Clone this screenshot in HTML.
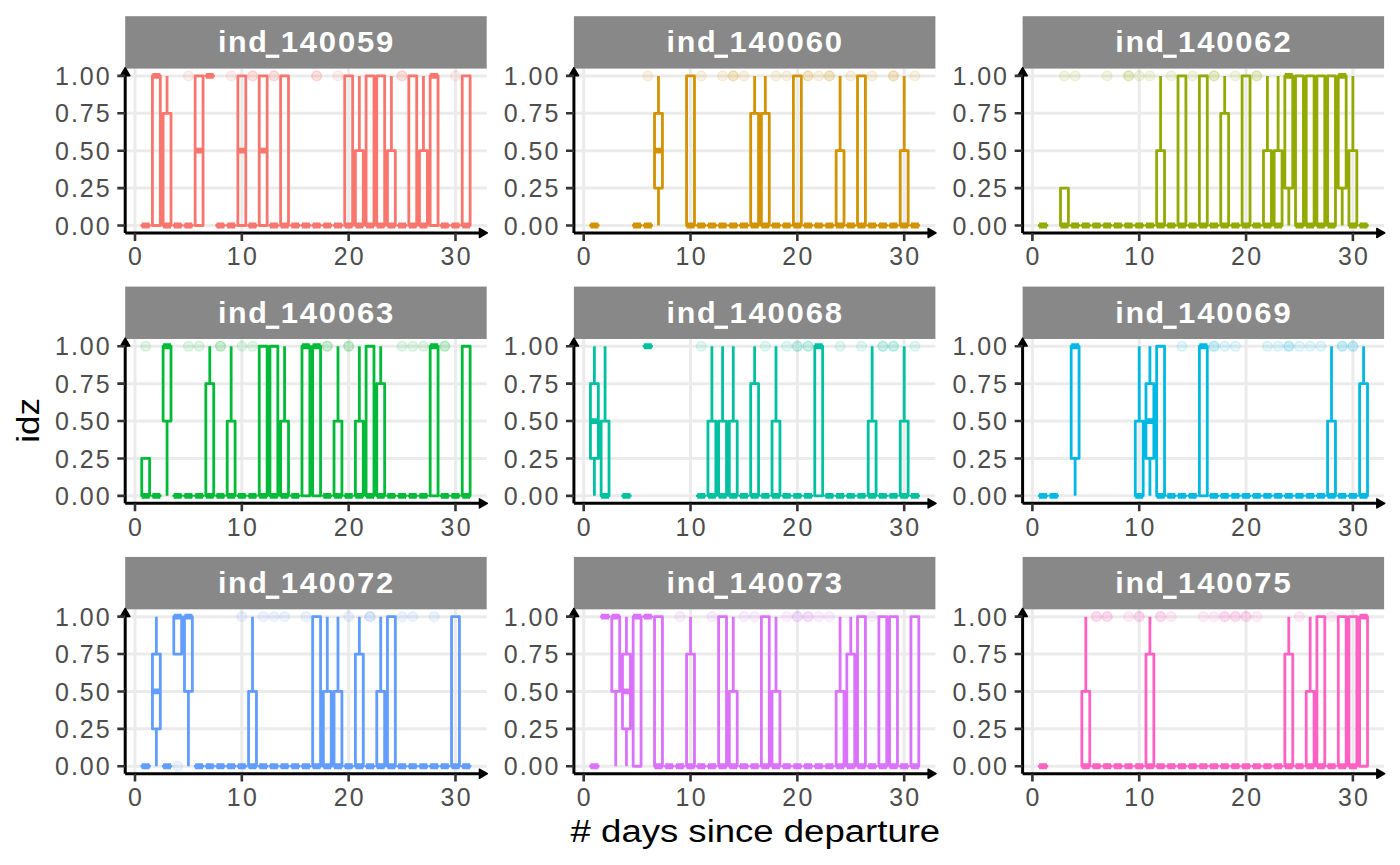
<!DOCTYPE html><html><head><meta charset="utf-8"><style>html,body{margin:0;padding:0;background:#fff;width:1400px;height:865px;overflow:hidden}svg{display:block}</style></head><body><svg width="1400" height="865" viewBox="0 0 1400 865">
<rect width="1400" height="865" fill="#FFFFFF"/>
<path d="M125.2 225.5H486.7M125.2 188.1H486.7M125.2 150.7H486.7M125.2 113.3H486.7M125.2 75.9H486.7M135 68.6V232.98M241.83 68.6V232.98M348.66 68.6V232.98M455.49 68.6V232.98" stroke="#EBEBEB" stroke-width="3.0" fill="none"/>
<rect x="125.2" y="16.2" width="361.5" height="52.4" fill="#888888"/>
<text transform="translate(217.9 52) scale(1.05 1)" font-family="Liberation Sans" font-weight="bold" font-size="29" fill="#FFFFFF" textLength="46.6" lengthAdjust="spacing">ind</text>
<rect x="265.7" y="54.6" width="13.6" height="3.3" fill="#FFFFFF"/>
<text transform="translate(280.7 52) scale(1.07 1)" font-family="Liberation Sans" font-weight="bold" font-size="29" fill="#FFFFFF" textLength="105.2" lengthAdjust="spacing">140059</text>
<circle cx="188.41" cy="75.9" r="4.9" fill="#F8766D" fill-opacity="0.11" stroke="#F8766D" stroke-opacity="0.13" stroke-width="1.3"/>
<circle cx="231.15" cy="75.9" r="4.9" fill="#F8766D" fill-opacity="0.11" stroke="#F8766D" stroke-opacity="0.13" stroke-width="1.3"/>
<circle cx="252.51" cy="75.9" r="4.9" fill="#F8766D" fill-opacity="0.11" stroke="#F8766D" stroke-opacity="0.13" stroke-width="1.3"/>
<circle cx="252.51" cy="75.9" r="4.9" fill="#F8766D" fill-opacity="0.11" stroke="#F8766D" stroke-opacity="0.13" stroke-width="1.3"/>
<circle cx="273.88" cy="75.9" r="4.9" fill="#F8766D" fill-opacity="0.11" stroke="#F8766D" stroke-opacity="0.13" stroke-width="1.3"/>
<circle cx="273.88" cy="75.9" r="4.9" fill="#F8766D" fill-opacity="0.11" stroke="#F8766D" stroke-opacity="0.13" stroke-width="1.3"/>
<circle cx="316.61" cy="75.9" r="4.9" fill="#F8766D" fill-opacity="0.11" stroke="#F8766D" stroke-opacity="0.13" stroke-width="1.3"/>
<circle cx="316.61" cy="75.9" r="4.9" fill="#F8766D" fill-opacity="0.11" stroke="#F8766D" stroke-opacity="0.13" stroke-width="1.3"/>
<circle cx="337.98" cy="75.9" r="4.9" fill="#F8766D" fill-opacity="0.11" stroke="#F8766D" stroke-opacity="0.13" stroke-width="1.3"/>
<circle cx="402.07" cy="75.9" r="4.9" fill="#F8766D" fill-opacity="0.11" stroke="#F8766D" stroke-opacity="0.13" stroke-width="1.3"/>
<circle cx="402.07" cy="75.9" r="4.9" fill="#F8766D" fill-opacity="0.11" stroke="#F8766D" stroke-opacity="0.13" stroke-width="1.3"/>
<circle cx="455.49" cy="75.9" r="4.9" fill="#F8766D" fill-opacity="0.11" stroke="#F8766D" stroke-opacity="0.13" stroke-width="1.3"/>
<path d="M167.05 113.3V75.9M359.34 150.7V75.9M391.39 150.7V75.9M423.44 150.7V75.9" stroke="#F8766D" stroke-width="2.8" fill="none" stroke-linecap="butt"/>
<path d="M141.73 225.5H149.63M152.42 225.5H160.32V75.9H152.42ZM163.1 225.5H171V113.3H163.1ZM173.78 225.5H181.68M184.47 225.5H192.36M195.15 225.5H203.05V75.9H195.15ZM205.83 75.9H213.73M216.51 225.5H224.41M227.2 225.5H235.1M237.88 225.5H245.78V75.9H237.88ZM248.56 225.5H256.46M259.25 225.5H267.15V75.9H259.25ZM269.93 225.5H277.83M280.61 225.5H288.51V75.9H280.61ZM291.3 225.5H299.19M301.98 225.5H309.88M312.66 225.5H320.56M323.34 225.5H331.24M334.03 225.5H341.93M344.71 225.5H352.61V75.9H344.71ZM355.39 225.5H363.29V150.7H355.39ZM366.08 225.5H373.98V75.9H366.08ZM376.76 225.5H384.66V75.9H376.76ZM387.44 225.5H395.34V150.7H387.44ZM398.12 225.5H406.02M408.81 225.5H416.71V75.9H408.81ZM419.49 225.5H427.39V150.7H419.49ZM430.17 225.5H438.07V75.9H430.17ZM440.86 225.5H448.76M451.54 225.5H459.44M462.22 225.5H470.12V75.9H462.22Z" stroke="#F8766D" stroke-width="2.8" fill="none" stroke-linejoin="round" stroke-linecap="round"/>
<path d="M141.73 225.5H149.63M152.42 75.9H160.32M163.1 225.5H171M173.78 225.5H181.68M184.47 225.5H192.36M195.15 150.7H203.05M205.83 75.9H213.73M216.51 225.5H224.41M227.2 225.5H235.1M237.88 150.7H245.78M248.56 225.5H256.46M259.25 150.7H267.15M269.93 225.5H277.83M280.61 225.5H288.51M291.3 225.5H299.19M301.98 225.5H309.88M312.66 225.5H320.56M323.34 225.5H331.24M334.03 225.5H341.93M344.71 225.5H352.61M355.39 225.5H363.29M366.08 225.5H373.98M376.76 225.5H384.66M387.44 225.5H395.34M398.12 225.5H406.02M408.81 225.5H416.71M419.49 225.5H427.39M430.17 75.9H438.07M440.86 225.5H448.76M451.54 225.5H459.44M462.22 225.5H470.12" stroke="#F8766D" stroke-width="5.8" fill="none" stroke-linecap="butt"/>
<path d="M125.2 232.98V74.6" stroke="#000" stroke-width="3.0" fill="none"/>
<path d="M125.2 67.7L120.5 75.7L129.9 75.7Z" fill="#000" stroke="#000" stroke-width="1.4" stroke-linejoin="round"/>
<path d="M125.2 232.98H480.7" stroke="#000" stroke-width="3.0" fill="none"/>
<path d="M487.4 232.98L479.4 228.38L479.4 237.58Z" fill="#000" stroke="#000" stroke-width="1.4" stroke-linejoin="round"/>
<path d="M117.3 225.5H125.2M117.3 188.1H125.2M117.3 150.7H125.2M117.3 113.3H125.2M117.3 75.9H125.2M135 232.98V240.88M241.83 232.98V240.88M348.66 232.98V240.88M455.49 232.98V240.88" stroke="#333333" stroke-width="2.6" fill="none"/>
<text x="109.6" y="235" text-anchor="end" font-family="Liberation Sans" font-size="25" fill="#4D4D4D" textLength="54.5" lengthAdjust="spacing">0.00</text>
<text x="109.6" y="197" text-anchor="end" font-family="Liberation Sans" font-size="25" fill="#4D4D4D" textLength="54.5" lengthAdjust="spacing">0.25</text>
<text x="109.6" y="160" text-anchor="end" font-family="Liberation Sans" font-size="25" fill="#4D4D4D" textLength="54.5" lengthAdjust="spacing">0.50</text>
<text x="109.6" y="122" text-anchor="end" font-family="Liberation Sans" font-size="25" fill="#4D4D4D" textLength="54.5" lengthAdjust="spacing">0.75</text>
<text x="109.6" y="85" text-anchor="end" font-family="Liberation Sans" font-size="25" fill="#4D4D4D" textLength="54.5" lengthAdjust="spacing">1.00</text>
<text x="135" y="265" text-anchor="middle" font-family="Liberation Sans" font-size="24.9" fill="#4D4D4D">0</text>
<text x="241.83" y="265" text-anchor="middle" font-family="Liberation Sans" font-size="24.9" fill="#4D4D4D" textLength="30" lengthAdjust="spacing">10</text>
<text x="348.66" y="265" text-anchor="middle" font-family="Liberation Sans" font-size="24.9" fill="#4D4D4D" textLength="30" lengthAdjust="spacing">20</text>
<text x="455.49" y="265" text-anchor="middle" font-family="Liberation Sans" font-size="24.9" fill="#4D4D4D" textLength="30" lengthAdjust="spacing">30</text>
<path d="M573.9 225.5H935.4M573.9 188.1H935.4M573.9 150.7H935.4M573.9 113.3H935.4M573.9 75.9H935.4M583.7 68.6V232.98M690.53 68.6V232.98M797.36 68.6V232.98M904.19 68.6V232.98" stroke="#EBEBEB" stroke-width="3.0" fill="none"/>
<rect x="573.9" y="16.2" width="361.5" height="52.4" fill="#888888"/>
<text transform="translate(666.6 52) scale(1.05 1)" font-family="Liberation Sans" font-weight="bold" font-size="29" fill="#FFFFFF" textLength="46.6" lengthAdjust="spacing">ind</text>
<rect x="714.4" y="54.6" width="13.6" height="3.3" fill="#FFFFFF"/>
<text transform="translate(729.4 52) scale(1.07 1)" font-family="Liberation Sans" font-weight="bold" font-size="29" fill="#FFFFFF" textLength="105.2" lengthAdjust="spacing">140060</text>
<circle cx="647.8" cy="75.9" r="4.9" fill="#D39200" fill-opacity="0.11" stroke="#D39200" stroke-opacity="0.13" stroke-width="1.3"/>
<circle cx="701.21" cy="75.9" r="4.9" fill="#D39200" fill-opacity="0.11" stroke="#D39200" stroke-opacity="0.13" stroke-width="1.3"/>
<circle cx="722.58" cy="75.9" r="4.9" fill="#D39200" fill-opacity="0.11" stroke="#D39200" stroke-opacity="0.13" stroke-width="1.3"/>
<circle cx="733.26" cy="75.9" r="4.9" fill="#D39200" fill-opacity="0.11" stroke="#D39200" stroke-opacity="0.13" stroke-width="1.3"/>
<circle cx="733.26" cy="75.9" r="4.9" fill="#D39200" fill-opacity="0.11" stroke="#D39200" stroke-opacity="0.13" stroke-width="1.3"/>
<circle cx="743.95" cy="75.9" r="4.9" fill="#D39200" fill-opacity="0.11" stroke="#D39200" stroke-opacity="0.13" stroke-width="1.3"/>
<circle cx="775.99" cy="75.9" r="4.9" fill="#D39200" fill-opacity="0.11" stroke="#D39200" stroke-opacity="0.13" stroke-width="1.3"/>
<circle cx="786.68" cy="75.9" r="4.9" fill="#D39200" fill-opacity="0.11" stroke="#D39200" stroke-opacity="0.13" stroke-width="1.3"/>
<circle cx="808.04" cy="75.9" r="4.9" fill="#D39200" fill-opacity="0.11" stroke="#D39200" stroke-opacity="0.13" stroke-width="1.3"/>
<circle cx="808.04" cy="75.9" r="4.9" fill="#D39200" fill-opacity="0.11" stroke="#D39200" stroke-opacity="0.13" stroke-width="1.3"/>
<circle cx="818.73" cy="75.9" r="4.9" fill="#D39200" fill-opacity="0.11" stroke="#D39200" stroke-opacity="0.13" stroke-width="1.3"/>
<circle cx="829.41" cy="75.9" r="4.9" fill="#D39200" fill-opacity="0.11" stroke="#D39200" stroke-opacity="0.13" stroke-width="1.3"/>
<circle cx="829.41" cy="75.9" r="4.9" fill="#D39200" fill-opacity="0.11" stroke="#D39200" stroke-opacity="0.13" stroke-width="1.3"/>
<circle cx="850.78" cy="75.9" r="4.9" fill="#D39200" fill-opacity="0.11" stroke="#D39200" stroke-opacity="0.13" stroke-width="1.3"/>
<circle cx="872.14" cy="75.9" r="4.9" fill="#D39200" fill-opacity="0.11" stroke="#D39200" stroke-opacity="0.13" stroke-width="1.3"/>
<circle cx="893.51" cy="75.9" r="4.9" fill="#D39200" fill-opacity="0.11" stroke="#D39200" stroke-opacity="0.13" stroke-width="1.3"/>
<circle cx="893.51" cy="75.9" r="4.9" fill="#D39200" fill-opacity="0.11" stroke="#D39200" stroke-opacity="0.13" stroke-width="1.3"/>
<circle cx="914.87" cy="75.9" r="4.9" fill="#D39200" fill-opacity="0.11" stroke="#D39200" stroke-opacity="0.13" stroke-width="1.3"/>
<path d="M658.48 113.3V75.9M658.48 188.1V225.5M754.63 113.3V75.9M765.31 113.3V75.9M840.09 150.7V75.9M904.19 150.7V75.9" stroke="#D39200" stroke-width="2.8" fill="none" stroke-linecap="butt"/>
<path d="M590.43 225.5H598.33M633.16 225.5H641.07M643.85 225.5H651.75M654.53 188.1H662.43V113.3H654.53ZM686.58 225.5H694.48V75.9H686.58ZM697.26 225.5H705.16M707.95 225.5H715.85M718.63 225.5H726.53M729.31 225.5H737.21M740 225.5H747.9M750.68 225.5H758.58V113.3H750.68ZM761.36 225.5H769.26V113.3H761.36ZM772.04 225.5H779.94M782.73 225.5H790.63M793.41 225.5H801.31V75.9H793.41ZM804.09 225.5H811.99M814.78 225.5H822.68M825.46 225.5H833.36M836.14 225.5H844.04V150.7H836.14ZM846.83 225.5H854.73M857.51 225.5H865.41V75.9H857.51ZM868.19 225.5H876.09M878.87 225.5H886.77M889.56 225.5H897.46M900.24 225.5H908.14V150.7H900.24ZM910.92 225.5H918.82" stroke="#D39200" stroke-width="2.8" fill="none" stroke-linejoin="round" stroke-linecap="round"/>
<path d="M590.43 225.5H598.33M633.16 225.5H641.07M643.85 225.5H651.75M654.53 150.7H662.43M686.58 225.5H694.48M697.26 225.5H705.16M707.95 225.5H715.85M718.63 225.5H726.53M729.31 225.5H737.21M740 225.5H747.9M750.68 225.5H758.58M761.36 225.5H769.26M772.04 225.5H779.94M782.73 225.5H790.63M793.41 225.5H801.31M804.09 225.5H811.99M814.78 225.5H822.68M825.46 225.5H833.36M836.14 225.5H844.04M846.83 225.5H854.73M857.51 225.5H865.41M868.19 225.5H876.09M878.87 225.5H886.77M889.56 225.5H897.46M900.24 225.5H908.14M910.92 225.5H918.82" stroke="#D39200" stroke-width="5.8" fill="none" stroke-linecap="butt"/>
<path d="M573.9 232.98V74.6" stroke="#000" stroke-width="3.0" fill="none"/>
<path d="M573.9 67.7L569.2 75.7L578.6 75.7Z" fill="#000" stroke="#000" stroke-width="1.4" stroke-linejoin="round"/>
<path d="M573.9 232.98H929.4" stroke="#000" stroke-width="3.0" fill="none"/>
<path d="M936.1 232.98L928.1 228.38L928.1 237.58Z" fill="#000" stroke="#000" stroke-width="1.4" stroke-linejoin="round"/>
<path d="M566 225.5H573.9M566 188.1H573.9M566 150.7H573.9M566 113.3H573.9M566 75.9H573.9M583.7 232.98V240.88M690.53 232.98V240.88M797.36 232.98V240.88M904.19 232.98V240.88" stroke="#333333" stroke-width="2.6" fill="none"/>
<text x="558.3" y="235" text-anchor="end" font-family="Liberation Sans" font-size="25" fill="#4D4D4D" textLength="54.5" lengthAdjust="spacing">0.00</text>
<text x="558.3" y="197" text-anchor="end" font-family="Liberation Sans" font-size="25" fill="#4D4D4D" textLength="54.5" lengthAdjust="spacing">0.25</text>
<text x="558.3" y="160" text-anchor="end" font-family="Liberation Sans" font-size="25" fill="#4D4D4D" textLength="54.5" lengthAdjust="spacing">0.50</text>
<text x="558.3" y="122" text-anchor="end" font-family="Liberation Sans" font-size="25" fill="#4D4D4D" textLength="54.5" lengthAdjust="spacing">0.75</text>
<text x="558.3" y="85" text-anchor="end" font-family="Liberation Sans" font-size="25" fill="#4D4D4D" textLength="54.5" lengthAdjust="spacing">1.00</text>
<text x="583.7" y="265" text-anchor="middle" font-family="Liberation Sans" font-size="24.9" fill="#4D4D4D">0</text>
<text x="690.53" y="265" text-anchor="middle" font-family="Liberation Sans" font-size="24.9" fill="#4D4D4D" textLength="30" lengthAdjust="spacing">10</text>
<text x="797.36" y="265" text-anchor="middle" font-family="Liberation Sans" font-size="24.9" fill="#4D4D4D" textLength="30" lengthAdjust="spacing">20</text>
<text x="904.19" y="265" text-anchor="middle" font-family="Liberation Sans" font-size="24.9" fill="#4D4D4D" textLength="30" lengthAdjust="spacing">30</text>
<path d="M1022.6 225.5H1384.1M1022.6 188.1H1384.1M1022.6 150.7H1384.1M1022.6 113.3H1384.1M1022.6 75.9H1384.1M1032.4 68.6V232.98M1139.23 68.6V232.98M1246.06 68.6V232.98M1352.89 68.6V232.98" stroke="#EBEBEB" stroke-width="3.0" fill="none"/>
<rect x="1022.6" y="16.2" width="361.5" height="52.4" fill="#888888"/>
<text transform="translate(1115.3 52) scale(1.05 1)" font-family="Liberation Sans" font-weight="bold" font-size="29" fill="#FFFFFF" textLength="46.6" lengthAdjust="spacing">ind</text>
<rect x="1163.1" y="54.6" width="13.6" height="3.3" fill="#FFFFFF"/>
<text transform="translate(1178.1 52) scale(1.07 1)" font-family="Liberation Sans" font-weight="bold" font-size="29" fill="#FFFFFF" textLength="105.2" lengthAdjust="spacing">140062</text>
<circle cx="1064.45" cy="75.9" r="4.9" fill="#93AA00" fill-opacity="0.11" stroke="#93AA00" stroke-opacity="0.13" stroke-width="1.3"/>
<circle cx="1075.13" cy="75.9" r="4.9" fill="#93AA00" fill-opacity="0.11" stroke="#93AA00" stroke-opacity="0.13" stroke-width="1.3"/>
<circle cx="1107.18" cy="75.9" r="4.9" fill="#93AA00" fill-opacity="0.11" stroke="#93AA00" stroke-opacity="0.13" stroke-width="1.3"/>
<circle cx="1128.55" cy="75.9" r="4.9" fill="#93AA00" fill-opacity="0.11" stroke="#93AA00" stroke-opacity="0.13" stroke-width="1.3"/>
<circle cx="1128.55" cy="75.9" r="4.9" fill="#93AA00" fill-opacity="0.11" stroke="#93AA00" stroke-opacity="0.13" stroke-width="1.3"/>
<circle cx="1139.23" cy="75.9" r="4.9" fill="#93AA00" fill-opacity="0.11" stroke="#93AA00" stroke-opacity="0.13" stroke-width="1.3"/>
<circle cx="1149.91" cy="75.9" r="4.9" fill="#93AA00" fill-opacity="0.11" stroke="#93AA00" stroke-opacity="0.13" stroke-width="1.3"/>
<circle cx="1171.28" cy="75.9" r="4.9" fill="#93AA00" fill-opacity="0.11" stroke="#93AA00" stroke-opacity="0.13" stroke-width="1.3"/>
<circle cx="1192.64" cy="75.9" r="4.9" fill="#93AA00" fill-opacity="0.11" stroke="#93AA00" stroke-opacity="0.13" stroke-width="1.3"/>
<circle cx="1214.01" cy="75.9" r="4.9" fill="#93AA00" fill-opacity="0.11" stroke="#93AA00" stroke-opacity="0.13" stroke-width="1.3"/>
<circle cx="1214.01" cy="75.9" r="4.9" fill="#93AA00" fill-opacity="0.11" stroke="#93AA00" stroke-opacity="0.13" stroke-width="1.3"/>
<circle cx="1235.38" cy="75.9" r="4.9" fill="#93AA00" fill-opacity="0.11" stroke="#93AA00" stroke-opacity="0.13" stroke-width="1.3"/>
<circle cx="1256.74" cy="75.9" r="4.9" fill="#93AA00" fill-opacity="0.11" stroke="#93AA00" stroke-opacity="0.13" stroke-width="1.3"/>
<circle cx="1256.74" cy="75.9" r="4.9" fill="#93AA00" fill-opacity="0.11" stroke="#93AA00" stroke-opacity="0.13" stroke-width="1.3"/>
<path d="M1160.6 150.7V75.9M1224.69 113.3V75.9M1267.43 150.7V75.9M1278.11 150.7V75.9M1288.79 188.1V225.5M1342.21 188.1V225.5M1352.89 150.7V75.9" stroke="#93AA00" stroke-width="2.8" fill="none" stroke-linecap="butt"/>
<path d="M1039.13 225.5H1047.03M1060.5 225.5H1068.4V188.1H1060.5ZM1071.18 225.5H1079.08M1081.87 225.5H1089.77M1092.55 225.5H1100.45M1103.23 225.5H1111.13M1113.91 225.5H1121.81M1124.6 225.5H1132.5M1135.28 225.5H1143.18M1145.96 225.5H1153.86M1156.65 225.5H1164.55V150.7H1156.65ZM1167.33 225.5H1175.23M1178.01 225.5H1185.91V75.9H1178.01ZM1188.69 225.5H1196.6M1199.38 225.5H1207.28V75.9H1199.38ZM1210.06 225.5H1217.96M1220.74 225.5H1228.64V113.3H1220.74ZM1231.43 225.5H1239.33M1242.11 225.5H1250.01V75.9H1242.11ZM1252.79 225.5H1260.69M1263.48 225.5H1271.38V150.7H1263.48ZM1274.16 225.5H1282.06V150.7H1274.16ZM1284.84 188.1H1292.74V75.9H1284.84ZM1295.53 225.5H1303.43V75.9H1295.53ZM1306.21 225.5H1314.11V75.9H1306.21ZM1316.89 225.5H1324.79V75.9H1316.89ZM1327.57 225.5H1335.47V75.9H1327.57ZM1338.26 188.1H1346.16V75.9H1338.26ZM1348.94 225.5H1356.84V150.7H1348.94ZM1359.62 225.5H1367.52" stroke="#93AA00" stroke-width="2.8" fill="none" stroke-linejoin="round" stroke-linecap="round"/>
<path d="M1039.13 225.5H1047.03M1060.5 225.5H1068.4M1071.18 225.5H1079.08M1081.87 225.5H1089.77M1092.55 225.5H1100.45M1103.23 225.5H1111.13M1113.91 225.5H1121.81M1124.6 225.5H1132.5M1135.28 225.5H1143.18M1145.96 225.5H1153.86M1156.65 225.5H1164.55M1167.33 225.5H1175.23M1178.01 225.5H1185.91M1188.69 225.5H1196.6M1199.38 225.5H1207.28M1210.06 225.5H1217.96M1220.74 225.5H1228.64M1231.43 225.5H1239.33M1242.11 225.5H1250.01M1252.79 225.5H1260.69M1263.48 225.5H1271.38M1274.16 225.5H1282.06M1284.84 75.9H1292.74M1295.53 225.5H1303.43M1306.21 225.5H1314.11M1316.89 225.5H1324.79M1327.57 225.5H1335.47M1338.26 75.9H1346.16M1348.94 225.5H1356.84M1359.62 225.5H1367.52" stroke="#93AA00" stroke-width="5.8" fill="none" stroke-linecap="butt"/>
<path d="M1022.6 232.98V74.6" stroke="#000" stroke-width="3.0" fill="none"/>
<path d="M1022.6 67.7L1017.9 75.7L1027.3 75.7Z" fill="#000" stroke="#000" stroke-width="1.4" stroke-linejoin="round"/>
<path d="M1022.6 232.98H1378.1" stroke="#000" stroke-width="3.0" fill="none"/>
<path d="M1384.8 232.98L1376.8 228.38L1376.8 237.58Z" fill="#000" stroke="#000" stroke-width="1.4" stroke-linejoin="round"/>
<path d="M1014.7 225.5H1022.6M1014.7 188.1H1022.6M1014.7 150.7H1022.6M1014.7 113.3H1022.6M1014.7 75.9H1022.6M1032.4 232.98V240.88M1139.23 232.98V240.88M1246.06 232.98V240.88M1352.89 232.98V240.88" stroke="#333333" stroke-width="2.6" fill="none"/>
<text x="1007" y="235" text-anchor="end" font-family="Liberation Sans" font-size="25" fill="#4D4D4D" textLength="54.5" lengthAdjust="spacing">0.00</text>
<text x="1007" y="197" text-anchor="end" font-family="Liberation Sans" font-size="25" fill="#4D4D4D" textLength="54.5" lengthAdjust="spacing">0.25</text>
<text x="1007" y="160" text-anchor="end" font-family="Liberation Sans" font-size="25" fill="#4D4D4D" textLength="54.5" lengthAdjust="spacing">0.50</text>
<text x="1007" y="122" text-anchor="end" font-family="Liberation Sans" font-size="25" fill="#4D4D4D" textLength="54.5" lengthAdjust="spacing">0.75</text>
<text x="1007" y="85" text-anchor="end" font-family="Liberation Sans" font-size="25" fill="#4D4D4D" textLength="54.5" lengthAdjust="spacing">1.00</text>
<text x="1032.4" y="265" text-anchor="middle" font-family="Liberation Sans" font-size="24.9" fill="#4D4D4D">0</text>
<text x="1139.23" y="265" text-anchor="middle" font-family="Liberation Sans" font-size="24.9" fill="#4D4D4D" textLength="30" lengthAdjust="spacing">10</text>
<text x="1246.06" y="265" text-anchor="middle" font-family="Liberation Sans" font-size="24.9" fill="#4D4D4D" textLength="30" lengthAdjust="spacing">20</text>
<text x="1352.89" y="265" text-anchor="middle" font-family="Liberation Sans" font-size="24.9" fill="#4D4D4D" textLength="30" lengthAdjust="spacing">30</text>
<path d="M125.2 495.87H486.7M125.2 458.47H486.7M125.2 421.07H486.7M125.2 383.67H486.7M125.2 346.27H486.7M135 338.97V503.35M241.83 338.97V503.35M348.66 338.97V503.35M455.49 338.97V503.35" stroke="#EBEBEB" stroke-width="3.0" fill="none"/>
<rect x="125.2" y="286.57" width="361.5" height="52.4" fill="#888888"/>
<text transform="translate(217.9 323) scale(1.05 1)" font-family="Liberation Sans" font-weight="bold" font-size="29" fill="#FFFFFF" textLength="46.6" lengthAdjust="spacing">ind</text>
<rect x="265.7" y="325.6" width="13.6" height="3.3" fill="#FFFFFF"/>
<text transform="translate(280.7 323) scale(1.07 1)" font-family="Liberation Sans" font-weight="bold" font-size="29" fill="#FFFFFF" textLength="105.2" lengthAdjust="spacing">140063</text>
<circle cx="145.68" cy="346.27" r="4.9" fill="#00BA38" fill-opacity="0.11" stroke="#00BA38" stroke-opacity="0.13" stroke-width="1.3"/>
<circle cx="188.41" cy="346.27" r="4.9" fill="#00BA38" fill-opacity="0.11" stroke="#00BA38" stroke-opacity="0.13" stroke-width="1.3"/>
<circle cx="199.1" cy="346.27" r="4.9" fill="#00BA38" fill-opacity="0.11" stroke="#00BA38" stroke-opacity="0.13" stroke-width="1.3"/>
<circle cx="220.46" cy="346.27" r="4.9" fill="#00BA38" fill-opacity="0.11" stroke="#00BA38" stroke-opacity="0.13" stroke-width="1.3"/>
<circle cx="220.46" cy="346.27" r="4.9" fill="#00BA38" fill-opacity="0.11" stroke="#00BA38" stroke-opacity="0.13" stroke-width="1.3"/>
<circle cx="241.83" cy="346.27" r="4.9" fill="#00BA38" fill-opacity="0.11" stroke="#00BA38" stroke-opacity="0.13" stroke-width="1.3"/>
<circle cx="252.51" cy="346.27" r="4.9" fill="#00BA38" fill-opacity="0.11" stroke="#00BA38" stroke-opacity="0.13" stroke-width="1.3"/>
<circle cx="327.29" cy="346.27" r="4.9" fill="#00BA38" fill-opacity="0.11" stroke="#00BA38" stroke-opacity="0.13" stroke-width="1.3"/>
<circle cx="327.29" cy="346.27" r="4.9" fill="#00BA38" fill-opacity="0.11" stroke="#00BA38" stroke-opacity="0.13" stroke-width="1.3"/>
<circle cx="348.66" cy="346.27" r="4.9" fill="#00BA38" fill-opacity="0.11" stroke="#00BA38" stroke-opacity="0.13" stroke-width="1.3"/>
<circle cx="348.66" cy="346.27" r="4.9" fill="#00BA38" fill-opacity="0.11" stroke="#00BA38" stroke-opacity="0.13" stroke-width="1.3"/>
<circle cx="402.07" cy="346.27" r="4.9" fill="#00BA38" fill-opacity="0.11" stroke="#00BA38" stroke-opacity="0.13" stroke-width="1.3"/>
<circle cx="412.76" cy="346.27" r="4.9" fill="#00BA38" fill-opacity="0.11" stroke="#00BA38" stroke-opacity="0.13" stroke-width="1.3"/>
<circle cx="423.44" cy="346.27" r="4.9" fill="#00BA38" fill-opacity="0.11" stroke="#00BA38" stroke-opacity="0.13" stroke-width="1.3"/>
<circle cx="444.81" cy="346.27" r="4.9" fill="#00BA38" fill-opacity="0.11" stroke="#00BA38" stroke-opacity="0.13" stroke-width="1.3"/>
<circle cx="444.81" cy="346.27" r="4.9" fill="#00BA38" fill-opacity="0.11" stroke="#00BA38" stroke-opacity="0.13" stroke-width="1.3"/>
<path d="M167.05 421.07V495.87M209.78 383.67V346.27M231.15 421.07V346.27M284.56 421.07V346.27M337.98 421.07V346.27M359.34 421.07V346.27M380.71 383.67V346.27" stroke="#00BA38" stroke-width="2.8" fill="none" stroke-linecap="butt"/>
<path d="M141.73 495.87H149.63V458.47H141.73ZM152.42 495.87H160.32M163.1 421.07H171V346.27H163.1ZM173.78 495.87H181.68M184.47 495.87H192.36M195.15 495.87H203.05M205.83 495.87H213.73V383.67H205.83ZM216.51 495.87H224.41M227.2 495.87H235.1V421.07H227.2ZM237.88 495.87H245.78M248.56 495.87H256.46M259.25 495.87H267.15V346.27H259.25ZM269.93 495.87H277.83V346.27H269.93ZM280.61 495.87H288.51V421.07H280.61ZM291.3 495.87H299.19M301.98 495.87H309.88V346.27H301.98ZM312.66 495.87H320.56V346.27H312.66ZM323.34 495.87H331.24M334.03 495.87H341.93V421.07H334.03ZM344.71 495.87H352.61M355.39 495.87H363.29V421.07H355.39ZM366.08 495.87H373.98V346.27H366.08ZM376.76 495.87H384.66V383.67H376.76ZM387.44 495.87H395.34M398.12 495.87H406.02M408.81 495.87H416.71M419.49 495.87H427.39M430.17 495.87H438.07V346.27H430.17ZM440.86 495.87H448.76M451.54 495.87H459.44M462.22 495.87H470.12V346.27H462.22Z" stroke="#00BA38" stroke-width="2.8" fill="none" stroke-linejoin="round" stroke-linecap="round"/>
<path d="M141.73 495.87H149.63M152.42 495.87H160.32M163.1 346.27H171M173.78 495.87H181.68M184.47 495.87H192.36M195.15 495.87H203.05M205.83 495.87H213.73M216.51 495.87H224.41M227.2 495.87H235.1M237.88 495.87H245.78M248.56 495.87H256.46M259.25 495.87H267.15M269.93 495.87H277.83M280.61 495.87H288.51M291.3 495.87H299.19M301.98 346.27H309.88M312.66 346.27H320.56M323.34 495.87H331.24M334.03 495.87H341.93M344.71 495.87H352.61M355.39 495.87H363.29M366.08 495.87H373.98M376.76 495.87H384.66M387.44 495.87H395.34M398.12 495.87H406.02M408.81 495.87H416.71M419.49 495.87H427.39M430.17 346.27H438.07M440.86 495.87H448.76M451.54 495.87H459.44M462.22 495.87H470.12" stroke="#00BA38" stroke-width="5.8" fill="none" stroke-linecap="butt"/>
<path d="M125.2 503.35V344.97" stroke="#000" stroke-width="3.0" fill="none"/>
<path d="M125.2 338.07L120.5 346.07L129.9 346.07Z" fill="#000" stroke="#000" stroke-width="1.4" stroke-linejoin="round"/>
<path d="M125.2 503.35H480.7" stroke="#000" stroke-width="3.0" fill="none"/>
<path d="M487.4 503.35L479.4 498.75L479.4 507.95Z" fill="#000" stroke="#000" stroke-width="1.4" stroke-linejoin="round"/>
<path d="M117.3 495.87H125.2M117.3 458.47H125.2M117.3 421.07H125.2M117.3 383.67H125.2M117.3 346.27H125.2M135 503.35V511.25M241.83 503.35V511.25M348.66 503.35V511.25M455.49 503.35V511.25" stroke="#333333" stroke-width="2.6" fill="none"/>
<text x="109.6" y="505" text-anchor="end" font-family="Liberation Sans" font-size="25" fill="#4D4D4D" textLength="54.5" lengthAdjust="spacing">0.00</text>
<text x="109.6" y="468" text-anchor="end" font-family="Liberation Sans" font-size="25" fill="#4D4D4D" textLength="54.5" lengthAdjust="spacing">0.25</text>
<text x="109.6" y="430" text-anchor="end" font-family="Liberation Sans" font-size="25" fill="#4D4D4D" textLength="54.5" lengthAdjust="spacing">0.50</text>
<text x="109.6" y="393" text-anchor="end" font-family="Liberation Sans" font-size="25" fill="#4D4D4D" textLength="54.5" lengthAdjust="spacing">0.75</text>
<text x="109.6" y="355" text-anchor="end" font-family="Liberation Sans" font-size="25" fill="#4D4D4D" textLength="54.5" lengthAdjust="spacing">1.00</text>
<text x="135" y="536" text-anchor="middle" font-family="Liberation Sans" font-size="24.9" fill="#4D4D4D">0</text>
<text x="241.83" y="536" text-anchor="middle" font-family="Liberation Sans" font-size="24.9" fill="#4D4D4D" textLength="30" lengthAdjust="spacing">10</text>
<text x="348.66" y="536" text-anchor="middle" font-family="Liberation Sans" font-size="24.9" fill="#4D4D4D" textLength="30" lengthAdjust="spacing">20</text>
<text x="455.49" y="536" text-anchor="middle" font-family="Liberation Sans" font-size="24.9" fill="#4D4D4D" textLength="30" lengthAdjust="spacing">30</text>
<path d="M573.9 495.87H935.4M573.9 458.47H935.4M573.9 421.07H935.4M573.9 383.67H935.4M573.9 346.27H935.4M583.7 338.97V503.35M690.53 338.97V503.35M797.36 338.97V503.35M904.19 338.97V503.35" stroke="#EBEBEB" stroke-width="3.0" fill="none"/>
<rect x="573.9" y="286.57" width="361.5" height="52.4" fill="#888888"/>
<text transform="translate(666.6 323) scale(1.05 1)" font-family="Liberation Sans" font-weight="bold" font-size="29" fill="#FFFFFF" textLength="46.6" lengthAdjust="spacing">ind</text>
<rect x="714.4" y="325.6" width="13.6" height="3.3" fill="#FFFFFF"/>
<text transform="translate(729.4 323) scale(1.07 1)" font-family="Liberation Sans" font-weight="bold" font-size="29" fill="#FFFFFF" textLength="105.2" lengthAdjust="spacing">140068</text>
<circle cx="701.21" cy="346.27" r="4.9" fill="#00C19F" fill-opacity="0.11" stroke="#00C19F" stroke-opacity="0.13" stroke-width="1.3"/>
<circle cx="765.31" cy="346.27" r="4.9" fill="#00C19F" fill-opacity="0.11" stroke="#00C19F" stroke-opacity="0.13" stroke-width="1.3"/>
<circle cx="786.68" cy="346.27" r="4.9" fill="#00C19F" fill-opacity="0.11" stroke="#00C19F" stroke-opacity="0.13" stroke-width="1.3"/>
<circle cx="797.36" cy="346.27" r="4.9" fill="#00C19F" fill-opacity="0.11" stroke="#00C19F" stroke-opacity="0.13" stroke-width="1.3"/>
<circle cx="797.36" cy="346.27" r="4.9" fill="#00C19F" fill-opacity="0.11" stroke="#00C19F" stroke-opacity="0.13" stroke-width="1.3"/>
<circle cx="808.04" cy="346.27" r="4.9" fill="#00C19F" fill-opacity="0.11" stroke="#00C19F" stroke-opacity="0.13" stroke-width="1.3"/>
<circle cx="808.04" cy="346.27" r="4.9" fill="#00C19F" fill-opacity="0.11" stroke="#00C19F" stroke-opacity="0.13" stroke-width="1.3"/>
<circle cx="840.09" cy="346.27" r="4.9" fill="#00C19F" fill-opacity="0.11" stroke="#00C19F" stroke-opacity="0.13" stroke-width="1.3"/>
<circle cx="861.46" cy="346.27" r="4.9" fill="#00C19F" fill-opacity="0.11" stroke="#00C19F" stroke-opacity="0.13" stroke-width="1.3"/>
<circle cx="882.82" cy="346.27" r="4.9" fill="#00C19F" fill-opacity="0.11" stroke="#00C19F" stroke-opacity="0.13" stroke-width="1.3"/>
<circle cx="882.82" cy="346.27" r="4.9" fill="#00C19F" fill-opacity="0.11" stroke="#00C19F" stroke-opacity="0.13" stroke-width="1.3"/>
<circle cx="893.51" cy="346.27" r="4.9" fill="#00C19F" fill-opacity="0.11" stroke="#00C19F" stroke-opacity="0.13" stroke-width="1.3"/>
<circle cx="893.51" cy="346.27" r="4.9" fill="#00C19F" fill-opacity="0.11" stroke="#00C19F" stroke-opacity="0.13" stroke-width="1.3"/>
<circle cx="914.87" cy="346.27" r="4.9" fill="#00C19F" fill-opacity="0.11" stroke="#00C19F" stroke-opacity="0.13" stroke-width="1.3"/>
<path d="M594.38 383.67V346.27M594.38 458.47V495.87M605.07 421.07V346.27M711.9 421.07V346.27M722.58 421.07V346.27M733.26 421.07V346.27M754.63 383.67V346.27M775.99 421.07V346.27M872.14 421.07V346.27M904.19 421.07V346.27" stroke="#00C19F" stroke-width="2.8" fill="none" stroke-linecap="butt"/>
<path d="M590.43 458.47H598.33V383.67H590.43ZM601.12 495.87H609.02V421.07H601.12ZM622.48 495.87H630.38M643.85 346.27H651.75M697.26 495.87H705.16M707.95 495.87H715.85V421.07H707.95ZM718.63 495.87H726.53V421.07H718.63ZM729.31 495.87H737.21V421.07H729.31ZM740 495.87H747.9M750.68 495.87H758.58V383.67H750.68ZM761.36 495.87H769.26M772.04 495.87H779.94V421.07H772.04ZM782.73 495.87H790.63M793.41 495.87H801.31M804.09 495.87H811.99M814.78 495.87H822.68V346.27H814.78ZM825.46 495.87H833.36M836.14 495.87H844.04M846.83 495.87H854.73M857.51 495.87H865.41M868.19 495.87H876.09V421.07H868.19ZM878.87 495.87H886.77M889.56 495.87H897.46M900.24 495.87H908.14V421.07H900.24ZM910.92 495.87H918.82" stroke="#00C19F" stroke-width="2.8" fill="none" stroke-linejoin="round" stroke-linecap="round"/>
<path d="M590.43 421.07H598.33M601.12 495.87H609.02M622.48 495.87H630.38M643.85 346.27H651.75M697.26 495.87H705.16M707.95 495.87H715.85M718.63 495.87H726.53M729.31 495.87H737.21M740 495.87H747.9M750.68 495.87H758.58M761.36 495.87H769.26M772.04 495.87H779.94M782.73 495.87H790.63M793.41 495.87H801.31M804.09 495.87H811.99M814.78 346.27H822.68M825.46 495.87H833.36M836.14 495.87H844.04M846.83 495.87H854.73M857.51 495.87H865.41M868.19 495.87H876.09M878.87 495.87H886.77M889.56 495.87H897.46M900.24 495.87H908.14M910.92 495.87H918.82" stroke="#00C19F" stroke-width="5.8" fill="none" stroke-linecap="butt"/>
<path d="M573.9 503.35V344.97" stroke="#000" stroke-width="3.0" fill="none"/>
<path d="M573.9 338.07L569.2 346.07L578.6 346.07Z" fill="#000" stroke="#000" stroke-width="1.4" stroke-linejoin="round"/>
<path d="M573.9 503.35H929.4" stroke="#000" stroke-width="3.0" fill="none"/>
<path d="M936.1 503.35L928.1 498.75L928.1 507.95Z" fill="#000" stroke="#000" stroke-width="1.4" stroke-linejoin="round"/>
<path d="M566 495.87H573.9M566 458.47H573.9M566 421.07H573.9M566 383.67H573.9M566 346.27H573.9M583.7 503.35V511.25M690.53 503.35V511.25M797.36 503.35V511.25M904.19 503.35V511.25" stroke="#333333" stroke-width="2.6" fill="none"/>
<text x="558.3" y="505" text-anchor="end" font-family="Liberation Sans" font-size="25" fill="#4D4D4D" textLength="54.5" lengthAdjust="spacing">0.00</text>
<text x="558.3" y="468" text-anchor="end" font-family="Liberation Sans" font-size="25" fill="#4D4D4D" textLength="54.5" lengthAdjust="spacing">0.25</text>
<text x="558.3" y="430" text-anchor="end" font-family="Liberation Sans" font-size="25" fill="#4D4D4D" textLength="54.5" lengthAdjust="spacing">0.50</text>
<text x="558.3" y="393" text-anchor="end" font-family="Liberation Sans" font-size="25" fill="#4D4D4D" textLength="54.5" lengthAdjust="spacing">0.75</text>
<text x="558.3" y="355" text-anchor="end" font-family="Liberation Sans" font-size="25" fill="#4D4D4D" textLength="54.5" lengthAdjust="spacing">1.00</text>
<text x="583.7" y="536" text-anchor="middle" font-family="Liberation Sans" font-size="24.9" fill="#4D4D4D">0</text>
<text x="690.53" y="536" text-anchor="middle" font-family="Liberation Sans" font-size="24.9" fill="#4D4D4D" textLength="30" lengthAdjust="spacing">10</text>
<text x="797.36" y="536" text-anchor="middle" font-family="Liberation Sans" font-size="24.9" fill="#4D4D4D" textLength="30" lengthAdjust="spacing">20</text>
<text x="904.19" y="536" text-anchor="middle" font-family="Liberation Sans" font-size="24.9" fill="#4D4D4D" textLength="30" lengthAdjust="spacing">30</text>
<path d="M1022.6 495.87H1384.1M1022.6 458.47H1384.1M1022.6 421.07H1384.1M1022.6 383.67H1384.1M1022.6 346.27H1384.1M1032.4 338.97V503.35M1139.23 338.97V503.35M1246.06 338.97V503.35M1352.89 338.97V503.35" stroke="#EBEBEB" stroke-width="3.0" fill="none"/>
<rect x="1022.6" y="286.57" width="361.5" height="52.4" fill="#888888"/>
<text transform="translate(1115.3 323) scale(1.05 1)" font-family="Liberation Sans" font-weight="bold" font-size="29" fill="#FFFFFF" textLength="46.6" lengthAdjust="spacing">ind</text>
<rect x="1163.1" y="325.6" width="13.6" height="3.3" fill="#FFFFFF"/>
<text transform="translate(1178.1 323) scale(1.07 1)" font-family="Liberation Sans" font-weight="bold" font-size="29" fill="#FFFFFF" textLength="105.2" lengthAdjust="spacing">140069</text>
<circle cx="1181.96" cy="346.27" r="4.9" fill="#00B9E3" fill-opacity="0.11" stroke="#00B9E3" stroke-opacity="0.13" stroke-width="1.3"/>
<circle cx="1214.01" cy="346.27" r="4.9" fill="#00B9E3" fill-opacity="0.11" stroke="#00B9E3" stroke-opacity="0.13" stroke-width="1.3"/>
<circle cx="1214.01" cy="346.27" r="4.9" fill="#00B9E3" fill-opacity="0.11" stroke="#00B9E3" stroke-opacity="0.13" stroke-width="1.3"/>
<circle cx="1224.69" cy="346.27" r="4.9" fill="#00B9E3" fill-opacity="0.11" stroke="#00B9E3" stroke-opacity="0.13" stroke-width="1.3"/>
<circle cx="1235.38" cy="346.27" r="4.9" fill="#00B9E3" fill-opacity="0.11" stroke="#00B9E3" stroke-opacity="0.13" stroke-width="1.3"/>
<circle cx="1267.43" cy="346.27" r="4.9" fill="#00B9E3" fill-opacity="0.11" stroke="#00B9E3" stroke-opacity="0.13" stroke-width="1.3"/>
<circle cx="1278.11" cy="346.27" r="4.9" fill="#00B9E3" fill-opacity="0.11" stroke="#00B9E3" stroke-opacity="0.13" stroke-width="1.3"/>
<circle cx="1288.79" cy="346.27" r="4.9" fill="#00B9E3" fill-opacity="0.11" stroke="#00B9E3" stroke-opacity="0.13" stroke-width="1.3"/>
<circle cx="1288.79" cy="346.27" r="4.9" fill="#00B9E3" fill-opacity="0.11" stroke="#00B9E3" stroke-opacity="0.13" stroke-width="1.3"/>
<circle cx="1299.48" cy="346.27" r="4.9" fill="#00B9E3" fill-opacity="0.11" stroke="#00B9E3" stroke-opacity="0.13" stroke-width="1.3"/>
<circle cx="1310.16" cy="346.27" r="4.9" fill="#00B9E3" fill-opacity="0.11" stroke="#00B9E3" stroke-opacity="0.13" stroke-width="1.3"/>
<circle cx="1320.84" cy="346.27" r="4.9" fill="#00B9E3" fill-opacity="0.11" stroke="#00B9E3" stroke-opacity="0.13" stroke-width="1.3"/>
<circle cx="1342.21" cy="346.27" r="4.9" fill="#00B9E3" fill-opacity="0.11" stroke="#00B9E3" stroke-opacity="0.13" stroke-width="1.3"/>
<circle cx="1342.21" cy="346.27" r="4.9" fill="#00B9E3" fill-opacity="0.11" stroke="#00B9E3" stroke-opacity="0.13" stroke-width="1.3"/>
<circle cx="1352.89" cy="346.27" r="4.9" fill="#00B9E3" fill-opacity="0.11" stroke="#00B9E3" stroke-opacity="0.13" stroke-width="1.3"/>
<circle cx="1352.89" cy="346.27" r="4.9" fill="#00B9E3" fill-opacity="0.11" stroke="#00B9E3" stroke-opacity="0.13" stroke-width="1.3"/>
<path d="M1075.13 458.47V495.87M1139.23 421.07V346.27M1149.91 383.67V346.27M1149.91 458.47V495.87M1331.52 421.07V346.27M1363.57 383.67V346.27" stroke="#00B9E3" stroke-width="2.8" fill="none" stroke-linecap="butt"/>
<path d="M1039.13 495.87H1047.03M1049.82 495.87H1057.72M1071.18 458.47H1079.08V346.27H1071.18ZM1135.28 495.87H1143.18V421.07H1135.28ZM1145.96 458.47H1153.86V383.67H1145.96ZM1156.65 495.87H1164.55V346.27H1156.65ZM1167.33 495.87H1175.23M1178.01 495.87H1185.91M1188.69 495.87H1196.6M1199.38 495.87H1207.28V346.27H1199.38ZM1210.06 495.87H1217.96M1220.74 495.87H1228.64M1231.43 495.87H1239.33M1242.11 495.87H1250.01M1252.79 495.87H1260.69M1263.48 495.87H1271.38M1274.16 495.87H1282.06M1284.84 495.87H1292.74M1295.53 495.87H1303.43M1306.21 495.87H1314.11M1316.89 495.87H1324.79M1327.57 495.87H1335.47V421.07H1327.57ZM1338.26 495.87H1346.16M1348.94 495.87H1356.84M1359.62 495.87H1367.52V383.67H1359.62Z" stroke="#00B9E3" stroke-width="2.8" fill="none" stroke-linejoin="round" stroke-linecap="round"/>
<path d="M1039.13 495.87H1047.03M1049.82 495.87H1057.72M1071.18 346.27H1079.08M1135.28 495.87H1143.18M1145.96 421.07H1153.86M1156.65 495.87H1164.55M1167.33 495.87H1175.23M1178.01 495.87H1185.91M1188.69 495.87H1196.6M1199.38 346.27H1207.28M1210.06 495.87H1217.96M1220.74 495.87H1228.64M1231.43 495.87H1239.33M1242.11 495.87H1250.01M1252.79 495.87H1260.69M1263.48 495.87H1271.38M1274.16 495.87H1282.06M1284.84 495.87H1292.74M1295.53 495.87H1303.43M1306.21 495.87H1314.11M1316.89 495.87H1324.79M1327.57 495.87H1335.47M1338.26 495.87H1346.16M1348.94 495.87H1356.84M1359.62 495.87H1367.52" stroke="#00B9E3" stroke-width="5.8" fill="none" stroke-linecap="butt"/>
<path d="M1022.6 503.35V344.97" stroke="#000" stroke-width="3.0" fill="none"/>
<path d="M1022.6 338.07L1017.9 346.07L1027.3 346.07Z" fill="#000" stroke="#000" stroke-width="1.4" stroke-linejoin="round"/>
<path d="M1022.6 503.35H1378.1" stroke="#000" stroke-width="3.0" fill="none"/>
<path d="M1384.8 503.35L1376.8 498.75L1376.8 507.95Z" fill="#000" stroke="#000" stroke-width="1.4" stroke-linejoin="round"/>
<path d="M1014.7 495.87H1022.6M1014.7 458.47H1022.6M1014.7 421.07H1022.6M1014.7 383.67H1022.6M1014.7 346.27H1022.6M1032.4 503.35V511.25M1139.23 503.35V511.25M1246.06 503.35V511.25M1352.89 503.35V511.25" stroke="#333333" stroke-width="2.6" fill="none"/>
<text x="1007" y="505" text-anchor="end" font-family="Liberation Sans" font-size="25" fill="#4D4D4D" textLength="54.5" lengthAdjust="spacing">0.00</text>
<text x="1007" y="468" text-anchor="end" font-family="Liberation Sans" font-size="25" fill="#4D4D4D" textLength="54.5" lengthAdjust="spacing">0.25</text>
<text x="1007" y="430" text-anchor="end" font-family="Liberation Sans" font-size="25" fill="#4D4D4D" textLength="54.5" lengthAdjust="spacing">0.50</text>
<text x="1007" y="393" text-anchor="end" font-family="Liberation Sans" font-size="25" fill="#4D4D4D" textLength="54.5" lengthAdjust="spacing">0.75</text>
<text x="1007" y="355" text-anchor="end" font-family="Liberation Sans" font-size="25" fill="#4D4D4D" textLength="54.5" lengthAdjust="spacing">1.00</text>
<text x="1032.4" y="536" text-anchor="middle" font-family="Liberation Sans" font-size="24.9" fill="#4D4D4D">0</text>
<text x="1139.23" y="536" text-anchor="middle" font-family="Liberation Sans" font-size="24.9" fill="#4D4D4D" textLength="30" lengthAdjust="spacing">10</text>
<text x="1246.06" y="536" text-anchor="middle" font-family="Liberation Sans" font-size="24.9" fill="#4D4D4D" textLength="30" lengthAdjust="spacing">20</text>
<text x="1352.89" y="536" text-anchor="middle" font-family="Liberation Sans" font-size="24.9" fill="#4D4D4D" textLength="30" lengthAdjust="spacing">30</text>
<path d="M125.2 766.24H486.7M125.2 728.84H486.7M125.2 691.44H486.7M125.2 654.04H486.7M125.2 616.64H486.7M135 609.34V773.72M241.83 609.34V773.72M348.66 609.34V773.72M455.49 609.34V773.72" stroke="#EBEBEB" stroke-width="3.0" fill="none"/>
<rect x="125.2" y="556.94" width="361.5" height="52.4" fill="#888888"/>
<text transform="translate(217.9 593) scale(1.05 1)" font-family="Liberation Sans" font-weight="bold" font-size="29" fill="#FFFFFF" textLength="46.6" lengthAdjust="spacing">ind</text>
<rect x="265.7" y="595.6" width="13.6" height="3.3" fill="#FFFFFF"/>
<text transform="translate(280.7 593) scale(1.07 1)" font-family="Liberation Sans" font-weight="bold" font-size="29" fill="#FFFFFF" textLength="105.2" lengthAdjust="spacing">140072</text>
<circle cx="177.73" cy="766.24" r="4.9" fill="#619CFF" fill-opacity="0.11" stroke="#619CFF" stroke-opacity="0.13" stroke-width="1.3"/>
<circle cx="241.83" cy="616.64" r="4.9" fill="#619CFF" fill-opacity="0.11" stroke="#619CFF" stroke-opacity="0.13" stroke-width="1.3"/>
<circle cx="263.2" cy="616.64" r="4.9" fill="#619CFF" fill-opacity="0.11" stroke="#619CFF" stroke-opacity="0.13" stroke-width="1.3"/>
<circle cx="273.88" cy="616.64" r="4.9" fill="#619CFF" fill-opacity="0.11" stroke="#619CFF" stroke-opacity="0.13" stroke-width="1.3"/>
<circle cx="284.56" cy="616.64" r="4.9" fill="#619CFF" fill-opacity="0.11" stroke="#619CFF" stroke-opacity="0.13" stroke-width="1.3"/>
<circle cx="305.93" cy="616.64" r="4.9" fill="#619CFF" fill-opacity="0.11" stroke="#619CFF" stroke-opacity="0.13" stroke-width="1.3"/>
<circle cx="348.66" cy="616.64" r="4.9" fill="#619CFF" fill-opacity="0.11" stroke="#619CFF" stroke-opacity="0.13" stroke-width="1.3"/>
<circle cx="370.03" cy="616.64" r="4.9" fill="#619CFF" fill-opacity="0.11" stroke="#619CFF" stroke-opacity="0.13" stroke-width="1.3"/>
<circle cx="370.03" cy="616.64" r="4.9" fill="#619CFF" fill-opacity="0.11" stroke="#619CFF" stroke-opacity="0.13" stroke-width="1.3"/>
<circle cx="402.07" cy="616.64" r="4.9" fill="#619CFF" fill-opacity="0.11" stroke="#619CFF" stroke-opacity="0.13" stroke-width="1.3"/>
<circle cx="412.76" cy="616.64" r="4.9" fill="#619CFF" fill-opacity="0.11" stroke="#619CFF" stroke-opacity="0.13" stroke-width="1.3"/>
<circle cx="434.12" cy="616.64" r="4.9" fill="#619CFF" fill-opacity="0.11" stroke="#619CFF" stroke-opacity="0.13" stroke-width="1.3"/>
<path d="M156.37 654.04V616.64M156.37 728.84V766.24M188.41 691.44V766.24M252.51 691.44V616.64M327.29 691.44V616.64M337.98 691.44V616.64M359.34 654.04V616.64M380.71 691.44V616.64" stroke="#619CFF" stroke-width="2.8" fill="none" stroke-linecap="butt"/>
<path d="M141.73 766.24H149.63M152.42 728.84H160.32V654.04H152.42ZM163.1 766.24H171M173.78 654.04H181.68V616.64H173.78ZM184.47 691.44H192.36V616.64H184.47ZM195.15 766.24H203.05M205.83 766.24H213.73M216.51 766.24H224.41M227.2 766.24H235.1M237.88 766.24H245.78M248.56 766.24H256.46V691.44H248.56ZM259.25 766.24H267.15M269.93 766.24H277.83M280.61 766.24H288.51M291.3 766.24H299.19M301.98 766.24H309.88M312.66 766.24H320.56V616.64H312.66ZM323.34 766.24H331.24V691.44H323.34ZM334.03 766.24H341.93V691.44H334.03ZM344.71 766.24H352.61M355.39 766.24H363.29V654.04H355.39ZM366.08 766.24H373.98M376.76 766.24H384.66V691.44H376.76ZM387.44 766.24H395.34V616.64H387.44ZM398.12 766.24H406.02M408.81 766.24H416.71M419.49 766.24H427.39M430.17 766.24H438.07M440.86 766.24H448.76M451.54 766.24H459.44V616.64H451.54ZM462.22 766.24H470.12" stroke="#619CFF" stroke-width="2.8" fill="none" stroke-linejoin="round" stroke-linecap="round"/>
<path d="M141.73 766.24H149.63M152.42 691.44H160.32M163.1 766.24H171M173.78 616.64H181.68M184.47 616.64H192.36M195.15 766.24H203.05M205.83 766.24H213.73M216.51 766.24H224.41M227.2 766.24H235.1M237.88 766.24H245.78M248.56 766.24H256.46M259.25 766.24H267.15M269.93 766.24H277.83M280.61 766.24H288.51M291.3 766.24H299.19M301.98 766.24H309.88M312.66 766.24H320.56M323.34 766.24H331.24M334.03 766.24H341.93M344.71 766.24H352.61M355.39 766.24H363.29M366.08 766.24H373.98M376.76 766.24H384.66M387.44 766.24H395.34M398.12 766.24H406.02M408.81 766.24H416.71M419.49 766.24H427.39M430.17 766.24H438.07M440.86 766.24H448.76M451.54 766.24H459.44M462.22 766.24H470.12" stroke="#619CFF" stroke-width="5.8" fill="none" stroke-linecap="butt"/>
<path d="M125.2 773.72V615.34" stroke="#000" stroke-width="3.0" fill="none"/>
<path d="M125.2 608.44L120.5 616.44L129.9 616.44Z" fill="#000" stroke="#000" stroke-width="1.4" stroke-linejoin="round"/>
<path d="M125.2 773.72H480.7" stroke="#000" stroke-width="3.0" fill="none"/>
<path d="M487.4 773.72L479.4 769.12L479.4 778.32Z" fill="#000" stroke="#000" stroke-width="1.4" stroke-linejoin="round"/>
<path d="M117.3 766.24H125.2M117.3 728.84H125.2M117.3 691.44H125.2M117.3 654.04H125.2M117.3 616.64H125.2M135 773.72V781.62M241.83 773.72V781.62M348.66 773.72V781.62M455.49 773.72V781.62" stroke="#333333" stroke-width="2.6" fill="none"/>
<text x="109.6" y="775" text-anchor="end" font-family="Liberation Sans" font-size="25" fill="#4D4D4D" textLength="54.5" lengthAdjust="spacing">0.00</text>
<text x="109.6" y="738" text-anchor="end" font-family="Liberation Sans" font-size="25" fill="#4D4D4D" textLength="54.5" lengthAdjust="spacing">0.25</text>
<text x="109.6" y="701" text-anchor="end" font-family="Liberation Sans" font-size="25" fill="#4D4D4D" textLength="54.5" lengthAdjust="spacing">0.50</text>
<text x="109.6" y="663" text-anchor="end" font-family="Liberation Sans" font-size="25" fill="#4D4D4D" textLength="54.5" lengthAdjust="spacing">0.75</text>
<text x="109.6" y="626" text-anchor="end" font-family="Liberation Sans" font-size="25" fill="#4D4D4D" textLength="54.5" lengthAdjust="spacing">1.00</text>
<text x="135" y="806" text-anchor="middle" font-family="Liberation Sans" font-size="24.9" fill="#4D4D4D">0</text>
<text x="241.83" y="806" text-anchor="middle" font-family="Liberation Sans" font-size="24.9" fill="#4D4D4D" textLength="30" lengthAdjust="spacing">10</text>
<text x="348.66" y="806" text-anchor="middle" font-family="Liberation Sans" font-size="24.9" fill="#4D4D4D" textLength="30" lengthAdjust="spacing">20</text>
<text x="455.49" y="806" text-anchor="middle" font-family="Liberation Sans" font-size="24.9" fill="#4D4D4D" textLength="30" lengthAdjust="spacing">30</text>
<path d="M573.9 766.24H935.4M573.9 728.84H935.4M573.9 691.44H935.4M573.9 654.04H935.4M573.9 616.64H935.4M583.7 609.34V773.72M690.53 609.34V773.72M797.36 609.34V773.72M904.19 609.34V773.72" stroke="#EBEBEB" stroke-width="3.0" fill="none"/>
<rect x="573.9" y="556.94" width="361.5" height="52.4" fill="#888888"/>
<text transform="translate(666.6 593) scale(1.05 1)" font-family="Liberation Sans" font-weight="bold" font-size="29" fill="#FFFFFF" textLength="46.6" lengthAdjust="spacing">ind</text>
<rect x="714.4" y="595.6" width="13.6" height="3.3" fill="#FFFFFF"/>
<text transform="translate(729.4 593) scale(1.07 1)" font-family="Liberation Sans" font-weight="bold" font-size="29" fill="#FFFFFF" textLength="105.2" lengthAdjust="spacing">140073</text>
<circle cx="679.85" cy="616.64" r="4.9" fill="#DB72FB" fill-opacity="0.11" stroke="#DB72FB" stroke-opacity="0.13" stroke-width="1.3"/>
<circle cx="711.9" cy="616.64" r="4.9" fill="#DB72FB" fill-opacity="0.11" stroke="#DB72FB" stroke-opacity="0.13" stroke-width="1.3"/>
<circle cx="743.95" cy="616.64" r="4.9" fill="#DB72FB" fill-opacity="0.11" stroke="#DB72FB" stroke-opacity="0.13" stroke-width="1.3"/>
<circle cx="754.63" cy="616.64" r="4.9" fill="#DB72FB" fill-opacity="0.11" stroke="#DB72FB" stroke-opacity="0.13" stroke-width="1.3"/>
<circle cx="786.68" cy="616.64" r="4.9" fill="#DB72FB" fill-opacity="0.11" stroke="#DB72FB" stroke-opacity="0.13" stroke-width="1.3"/>
<circle cx="797.36" cy="616.64" r="4.9" fill="#DB72FB" fill-opacity="0.11" stroke="#DB72FB" stroke-opacity="0.13" stroke-width="1.3"/>
<circle cx="797.36" cy="616.64" r="4.9" fill="#DB72FB" fill-opacity="0.11" stroke="#DB72FB" stroke-opacity="0.13" stroke-width="1.3"/>
<circle cx="808.04" cy="616.64" r="4.9" fill="#DB72FB" fill-opacity="0.11" stroke="#DB72FB" stroke-opacity="0.13" stroke-width="1.3"/>
<circle cx="808.04" cy="616.64" r="4.9" fill="#DB72FB" fill-opacity="0.11" stroke="#DB72FB" stroke-opacity="0.13" stroke-width="1.3"/>
<circle cx="818.73" cy="616.64" r="4.9" fill="#DB72FB" fill-opacity="0.11" stroke="#DB72FB" stroke-opacity="0.13" stroke-width="1.3"/>
<circle cx="829.41" cy="616.64" r="4.9" fill="#DB72FB" fill-opacity="0.11" stroke="#DB72FB" stroke-opacity="0.13" stroke-width="1.3"/>
<circle cx="872.14" cy="616.64" r="4.9" fill="#DB72FB" fill-opacity="0.11" stroke="#DB72FB" stroke-opacity="0.13" stroke-width="1.3"/>
<path d="M615.75 691.44V766.24M626.43 654.04V616.64M626.43 728.84V766.24M690.53 654.04V616.64M733.26 691.44V616.64M775.99 691.44V616.64M840.09 691.44V616.64M850.78 654.04V616.64" stroke="#DB72FB" stroke-width="2.8" fill="none" stroke-linecap="butt"/>
<path d="M590.43 766.24H598.33M601.12 616.64H609.02M611.8 691.44H619.7V616.64H611.8ZM622.48 728.84H630.38V654.04H622.48ZM633.16 766.24H641.07V616.64H633.16ZM643.85 616.64H651.75M654.53 766.24H662.43V616.64H654.53ZM665.21 766.24H673.11M675.9 766.24H683.8M686.58 766.24H694.48V654.04H686.58ZM697.26 766.24H705.16M707.95 766.24H715.85M718.63 766.24H726.53V616.64H718.63ZM729.31 766.24H737.21V691.44H729.31ZM740 766.24H747.9M750.68 766.24H758.58M761.36 766.24H769.26V616.64H761.36ZM772.04 766.24H779.94V691.44H772.04ZM782.73 766.24H790.63M793.41 766.24H801.31M804.09 766.24H811.99M814.78 766.24H822.68M825.46 766.24H833.36M836.14 766.24H844.04V691.44H836.14ZM846.83 766.24H854.73V654.04H846.83ZM857.51 766.24H865.41V616.64H857.51ZM868.19 766.24H876.09M878.87 766.24H886.77V616.64H878.87ZM889.56 766.24H897.46V616.64H889.56ZM900.24 766.24H908.14M910.92 766.24H918.82V616.64H910.92Z" stroke="#DB72FB" stroke-width="2.8" fill="none" stroke-linejoin="round" stroke-linecap="round"/>
<path d="M590.43 766.24H598.33M601.12 616.64H609.02M611.8 616.64H619.7M622.48 691.44H630.38M633.16 616.64H641.07M643.85 616.64H651.75M654.53 766.24H662.43M665.21 766.24H673.11M675.9 766.24H683.8M686.58 766.24H694.48M697.26 766.24H705.16M707.95 766.24H715.85M718.63 766.24H726.53M729.31 766.24H737.21M740 766.24H747.9M750.68 766.24H758.58M761.36 766.24H769.26M772.04 766.24H779.94M782.73 766.24H790.63M793.41 766.24H801.31M804.09 766.24H811.99M814.78 766.24H822.68M825.46 766.24H833.36M836.14 766.24H844.04M846.83 766.24H854.73M857.51 766.24H865.41M868.19 766.24H876.09M878.87 766.24H886.77M889.56 766.24H897.46M900.24 766.24H908.14M910.92 766.24H918.82" stroke="#DB72FB" stroke-width="5.8" fill="none" stroke-linecap="butt"/>
<path d="M573.9 773.72V615.34" stroke="#000" stroke-width="3.0" fill="none"/>
<path d="M573.9 608.44L569.2 616.44L578.6 616.44Z" fill="#000" stroke="#000" stroke-width="1.4" stroke-linejoin="round"/>
<path d="M573.9 773.72H929.4" stroke="#000" stroke-width="3.0" fill="none"/>
<path d="M936.1 773.72L928.1 769.12L928.1 778.32Z" fill="#000" stroke="#000" stroke-width="1.4" stroke-linejoin="round"/>
<path d="M566 766.24H573.9M566 728.84H573.9M566 691.44H573.9M566 654.04H573.9M566 616.64H573.9M583.7 773.72V781.62M690.53 773.72V781.62M797.36 773.72V781.62M904.19 773.72V781.62" stroke="#333333" stroke-width="2.6" fill="none"/>
<text x="558.3" y="775" text-anchor="end" font-family="Liberation Sans" font-size="25" fill="#4D4D4D" textLength="54.5" lengthAdjust="spacing">0.00</text>
<text x="558.3" y="738" text-anchor="end" font-family="Liberation Sans" font-size="25" fill="#4D4D4D" textLength="54.5" lengthAdjust="spacing">0.25</text>
<text x="558.3" y="701" text-anchor="end" font-family="Liberation Sans" font-size="25" fill="#4D4D4D" textLength="54.5" lengthAdjust="spacing">0.50</text>
<text x="558.3" y="663" text-anchor="end" font-family="Liberation Sans" font-size="25" fill="#4D4D4D" textLength="54.5" lengthAdjust="spacing">0.75</text>
<text x="558.3" y="626" text-anchor="end" font-family="Liberation Sans" font-size="25" fill="#4D4D4D" textLength="54.5" lengthAdjust="spacing">1.00</text>
<text x="583.7" y="806" text-anchor="middle" font-family="Liberation Sans" font-size="24.9" fill="#4D4D4D">0</text>
<text x="690.53" y="806" text-anchor="middle" font-family="Liberation Sans" font-size="24.9" fill="#4D4D4D" textLength="30" lengthAdjust="spacing">10</text>
<text x="797.36" y="806" text-anchor="middle" font-family="Liberation Sans" font-size="24.9" fill="#4D4D4D" textLength="30" lengthAdjust="spacing">20</text>
<text x="904.19" y="806" text-anchor="middle" font-family="Liberation Sans" font-size="24.9" fill="#4D4D4D" textLength="30" lengthAdjust="spacing">30</text>
<path d="M1022.6 766.24H1384.1M1022.6 728.84H1384.1M1022.6 691.44H1384.1M1022.6 654.04H1384.1M1022.6 616.64H1384.1M1032.4 609.34V773.72M1139.23 609.34V773.72M1246.06 609.34V773.72M1352.89 609.34V773.72" stroke="#EBEBEB" stroke-width="3.0" fill="none"/>
<rect x="1022.6" y="556.94" width="361.5" height="52.4" fill="#888888"/>
<text transform="translate(1115.3 593) scale(1.05 1)" font-family="Liberation Sans" font-weight="bold" font-size="29" fill="#FFFFFF" textLength="46.6" lengthAdjust="spacing">ind</text>
<rect x="1163.1" y="595.6" width="13.6" height="3.3" fill="#FFFFFF"/>
<text transform="translate(1178.1 593) scale(1.07 1)" font-family="Liberation Sans" font-weight="bold" font-size="29" fill="#FFFFFF" textLength="105.2" lengthAdjust="spacing">140075</text>
<circle cx="1096.5" cy="616.64" r="4.9" fill="#FF61C3" fill-opacity="0.11" stroke="#FF61C3" stroke-opacity="0.13" stroke-width="1.3"/>
<circle cx="1096.5" cy="616.64" r="4.9" fill="#FF61C3" fill-opacity="0.11" stroke="#FF61C3" stroke-opacity="0.13" stroke-width="1.3"/>
<circle cx="1107.18" cy="616.64" r="4.9" fill="#FF61C3" fill-opacity="0.11" stroke="#FF61C3" stroke-opacity="0.13" stroke-width="1.3"/>
<circle cx="1107.18" cy="616.64" r="4.9" fill="#FF61C3" fill-opacity="0.11" stroke="#FF61C3" stroke-opacity="0.13" stroke-width="1.3"/>
<circle cx="1128.55" cy="616.64" r="4.9" fill="#FF61C3" fill-opacity="0.11" stroke="#FF61C3" stroke-opacity="0.13" stroke-width="1.3"/>
<circle cx="1139.23" cy="616.64" r="4.9" fill="#FF61C3" fill-opacity="0.11" stroke="#FF61C3" stroke-opacity="0.13" stroke-width="1.3"/>
<circle cx="1139.23" cy="616.64" r="4.9" fill="#FF61C3" fill-opacity="0.11" stroke="#FF61C3" stroke-opacity="0.13" stroke-width="1.3"/>
<circle cx="1160.6" cy="616.64" r="4.9" fill="#FF61C3" fill-opacity="0.11" stroke="#FF61C3" stroke-opacity="0.13" stroke-width="1.3"/>
<circle cx="1160.6" cy="616.64" r="4.9" fill="#FF61C3" fill-opacity="0.11" stroke="#FF61C3" stroke-opacity="0.13" stroke-width="1.3"/>
<circle cx="1171.28" cy="616.64" r="4.9" fill="#FF61C3" fill-opacity="0.11" stroke="#FF61C3" stroke-opacity="0.13" stroke-width="1.3"/>
<circle cx="1203.33" cy="616.64" r="4.9" fill="#FF61C3" fill-opacity="0.11" stroke="#FF61C3" stroke-opacity="0.13" stroke-width="1.3"/>
<circle cx="1214.01" cy="616.64" r="4.9" fill="#FF61C3" fill-opacity="0.11" stroke="#FF61C3" stroke-opacity="0.13" stroke-width="1.3"/>
<circle cx="1224.69" cy="616.64" r="4.9" fill="#FF61C3" fill-opacity="0.11" stroke="#FF61C3" stroke-opacity="0.13" stroke-width="1.3"/>
<circle cx="1224.69" cy="616.64" r="4.9" fill="#FF61C3" fill-opacity="0.11" stroke="#FF61C3" stroke-opacity="0.13" stroke-width="1.3"/>
<circle cx="1235.38" cy="616.64" r="4.9" fill="#FF61C3" fill-opacity="0.11" stroke="#FF61C3" stroke-opacity="0.13" stroke-width="1.3"/>
<circle cx="1235.38" cy="616.64" r="4.9" fill="#FF61C3" fill-opacity="0.11" stroke="#FF61C3" stroke-opacity="0.13" stroke-width="1.3"/>
<circle cx="1246.06" cy="616.64" r="4.9" fill="#FF61C3" fill-opacity="0.11" stroke="#FF61C3" stroke-opacity="0.13" stroke-width="1.3"/>
<circle cx="1246.06" cy="616.64" r="4.9" fill="#FF61C3" fill-opacity="0.11" stroke="#FF61C3" stroke-opacity="0.13" stroke-width="1.3"/>
<circle cx="1256.74" cy="616.64" r="4.9" fill="#FF61C3" fill-opacity="0.11" stroke="#FF61C3" stroke-opacity="0.13" stroke-width="1.3"/>
<circle cx="1299.48" cy="616.64" r="4.9" fill="#FF61C3" fill-opacity="0.11" stroke="#FF61C3" stroke-opacity="0.13" stroke-width="1.3"/>
<circle cx="1331.52" cy="616.64" r="4.9" fill="#FF61C3" fill-opacity="0.11" stroke="#FF61C3" stroke-opacity="0.13" stroke-width="1.3"/>
<path d="M1085.82 691.44V616.64M1149.91 654.04V616.64M1288.79 654.04V616.64M1310.16 691.44V616.64" stroke="#FF61C3" stroke-width="2.8" fill="none" stroke-linecap="butt"/>
<path d="M1039.13 766.24H1047.03M1081.87 766.24H1089.77V691.44H1081.87ZM1092.55 766.24H1100.45M1103.23 766.24H1111.13M1113.91 766.24H1121.81M1124.6 766.24H1132.5M1135.28 766.24H1143.18M1145.96 766.24H1153.86V654.04H1145.96ZM1156.65 766.24H1164.55M1167.33 766.24H1175.23M1178.01 766.24H1185.91M1188.69 766.24H1196.6M1199.38 766.24H1207.28M1210.06 766.24H1217.96M1220.74 766.24H1228.64M1231.43 766.24H1239.33M1242.11 766.24H1250.01M1252.79 766.24H1260.69M1263.48 766.24H1271.38M1274.16 766.24H1282.06M1284.84 766.24H1292.74V654.04H1284.84ZM1295.53 766.24H1303.43M1306.21 766.24H1314.11V691.44H1306.21ZM1316.89 766.24H1324.79V616.64H1316.89ZM1327.57 766.24H1335.47M1338.26 766.24H1346.16V616.64H1338.26ZM1348.94 766.24H1356.84V616.64H1348.94ZM1359.62 766.24H1367.52V616.64H1359.62Z" stroke="#FF61C3" stroke-width="2.8" fill="none" stroke-linejoin="round" stroke-linecap="round"/>
<path d="M1039.13 766.24H1047.03M1081.87 766.24H1089.77M1092.55 766.24H1100.45M1103.23 766.24H1111.13M1113.91 766.24H1121.81M1124.6 766.24H1132.5M1135.28 766.24H1143.18M1145.96 766.24H1153.86M1156.65 766.24H1164.55M1167.33 766.24H1175.23M1178.01 766.24H1185.91M1188.69 766.24H1196.6M1199.38 766.24H1207.28M1210.06 766.24H1217.96M1220.74 766.24H1228.64M1231.43 766.24H1239.33M1242.11 766.24H1250.01M1252.79 766.24H1260.69M1263.48 766.24H1271.38M1274.16 766.24H1282.06M1284.84 766.24H1292.74M1295.53 766.24H1303.43M1306.21 766.24H1314.11M1316.89 766.24H1324.79M1327.57 766.24H1335.47M1338.26 766.24H1346.16M1348.94 766.24H1356.84M1359.62 616.64H1367.52" stroke="#FF61C3" stroke-width="5.8" fill="none" stroke-linecap="butt"/>
<path d="M1022.6 773.72V615.34" stroke="#000" stroke-width="3.0" fill="none"/>
<path d="M1022.6 608.44L1017.9 616.44L1027.3 616.44Z" fill="#000" stroke="#000" stroke-width="1.4" stroke-linejoin="round"/>
<path d="M1022.6 773.72H1378.1" stroke="#000" stroke-width="3.0" fill="none"/>
<path d="M1384.8 773.72L1376.8 769.12L1376.8 778.32Z" fill="#000" stroke="#000" stroke-width="1.4" stroke-linejoin="round"/>
<path d="M1014.7 766.24H1022.6M1014.7 728.84H1022.6M1014.7 691.44H1022.6M1014.7 654.04H1022.6M1014.7 616.64H1022.6M1032.4 773.72V781.62M1139.23 773.72V781.62M1246.06 773.72V781.62M1352.89 773.72V781.62" stroke="#333333" stroke-width="2.6" fill="none"/>
<text x="1007" y="775" text-anchor="end" font-family="Liberation Sans" font-size="25" fill="#4D4D4D" textLength="54.5" lengthAdjust="spacing">0.00</text>
<text x="1007" y="738" text-anchor="end" font-family="Liberation Sans" font-size="25" fill="#4D4D4D" textLength="54.5" lengthAdjust="spacing">0.25</text>
<text x="1007" y="701" text-anchor="end" font-family="Liberation Sans" font-size="25" fill="#4D4D4D" textLength="54.5" lengthAdjust="spacing">0.50</text>
<text x="1007" y="663" text-anchor="end" font-family="Liberation Sans" font-size="25" fill="#4D4D4D" textLength="54.5" lengthAdjust="spacing">0.75</text>
<text x="1007" y="626" text-anchor="end" font-family="Liberation Sans" font-size="25" fill="#4D4D4D" textLength="54.5" lengthAdjust="spacing">1.00</text>
<text x="1032.4" y="806" text-anchor="middle" font-family="Liberation Sans" font-size="24.9" fill="#4D4D4D">0</text>
<text x="1139.23" y="806" text-anchor="middle" font-family="Liberation Sans" font-size="24.9" fill="#4D4D4D" textLength="30" lengthAdjust="spacing">10</text>
<text x="1246.06" y="806" text-anchor="middle" font-family="Liberation Sans" font-size="24.9" fill="#4D4D4D" textLength="30" lengthAdjust="spacing">20</text>
<text x="1352.89" y="806" text-anchor="middle" font-family="Liberation Sans" font-size="24.9" fill="#4D4D4D" textLength="30" lengthAdjust="spacing">30</text>
<text x="755.4" y="841.8" text-anchor="middle" font-family="Liberation Sans" font-size="31" fill="#000" textLength="369.6" lengthAdjust="spacingAndGlyphs"># days since departure</text>
<text transform="translate(39 420.4) rotate(-90)" text-anchor="middle" font-family="Liberation Sans" font-size="31" fill="#000" textLength="44.7" lengthAdjust="spacingAndGlyphs">idz</text>
</svg></body></html>
